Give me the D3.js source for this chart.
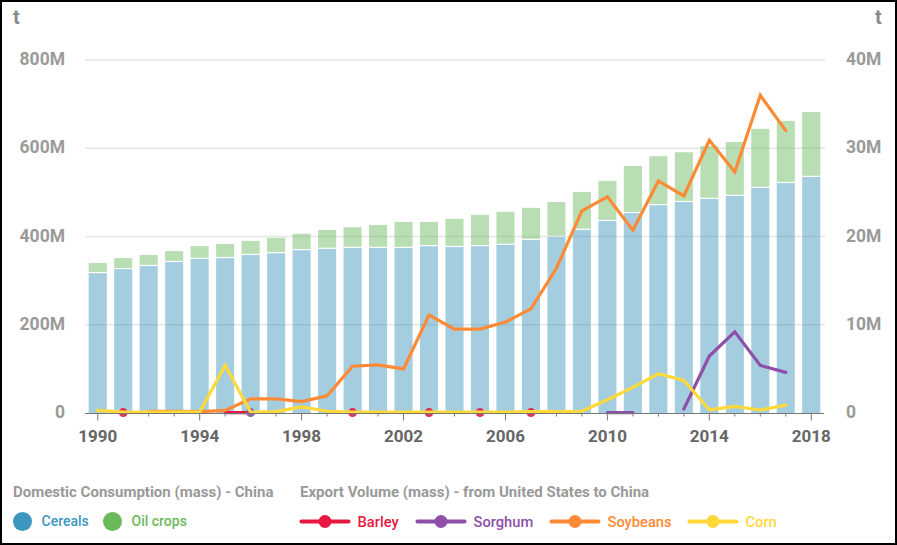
<!DOCTYPE html>
<html><head><meta charset="utf-8">
<script src="https://cdn.jsdelivr.net/npm/d3@7/dist/d3.min.js"></script>
<style>html,body{margin:0;padding:0;background:#fff}svg{display:block}text{font-family:Roboto,sans-serif}</style>
</head><body><svg id="c" width="897" height="545"></svg>
<script>
const years = d3.range(1990, 2019);
const cereals = [317,326,333,342,349,351,358,362,369,372,374,374,374,378,376,378,381,392,399,415,435,453,471,478,485,492,510,521,535];
const oilCrops = [23,25,25,25,29,32,32,35,37,43,47,52,59,55,64,71,75,73,79,86,91,107,111,113,120,122,134,141,147];
const barley = [null,0.05,null,null,null,0.05,0.05,null,null,null,0.05,null,null,0.05,null,0.05,null,0.05,null,null,null,null,null,null,null,null,null,null,null];
const sorghum = [null,null,null,null,null,null,0.05,null,null,null,null,null,null,null,null,null,null,null,null,null,0.05,0.05,null,0.45,6.45,9.2,5.4,4.6,null];
const soybeans = [null,null,0.2,0.2,0.15,0.3,1.6,1.6,1.3,1.95,5.3,5.45,5.0,11.1,9.5,9.5,10.3,11.8,16.4,22.9,24.5,20.7,26.3,24.6,30.9,27.3,36,32,null];
const corn = [0.3,0.1,0.1,0.1,0.1,5.4,0.1,0.15,0.7,0.2,0.1,0.1,0.1,0.1,0.1,0.1,0.1,0.15,0.15,0.2,1.5,2.9,4.45,3.7,0.37,0.74,0.34,0.9,null];
const leftTicks = [0,200,400,600,800];
const rightTicks = [0,10,20,30,40];
const barSeries = [{name:"Cereals",color:"#3d96bd"},{name:"Oil crops",color:"#6bb95d"}];
const lineSeries = [
  {name:"Barley",color:"#e8173f",values:barley},
  {name:"Sorghum",color:"#8e4fa8",values:sorghum},
  {name:"Soybeans",color:"#ff8a36",values:soybeans},
  {name:"Corn",color:"#ffd83a",values:corn}];

const svg = d3.select("#c");
const x = d3.scaleBand().domain(years).range([85,824]).paddingInner(0.29).paddingOuter(0.145);
const cx = d => x(d)+x.bandwidth()/2;
const yL = d3.scaleLinear().domain([0,800]).range([413,60]);
const yR = d3.scaleLinear().domain([0,40]).range([413,60]);
const fmtM = d => d===0 ? "0" : d+"M";

// grid
svg.append("g").selectAll("line").data(leftTicks.slice(1)).join("line")
  .attr("x1",85).attr("x2",825).attr("y1",yL).attr("y2",yL)
  .attr("stroke","#e6e6e6").attr("stroke-width",1.3);

// bars
svg.append("g").selectAll("rect").data(years).join("rect")
  .attr("x",d=>x(d)).attr("width",x.bandwidth())
  .attr("y",(d,i)=>yL(cereals[i])).attr("height",(d,i)=>yL(0)-yL(cereals[i]))
  .attr("fill",barSeries[0].color).attr("fill-opacity",0.47);
svg.append("g").selectAll("rect").data(years).join("rect")
  .attr("x",d=>x(d)).attr("width",x.bandwidth())
  .attr("y",(d,i)=>yL(cereals[i]+oilCrops[i])).attr("height",(d,i)=>yL(cereals[i])-yL(cereals[i]+oilCrops[i])-1.2)
  .attr("fill",barSeries[1].color).attr("fill-opacity",0.47);

// left/right axes
const axL = svg.append("g").attr("transform","translate(65,-1)")
  .call(d3.axisLeft(yL).tickValues(leftTicks).tickFormat(fmtM).tickSize(0).tickPadding(0));
axL.select(".domain").remove();
axL.selectAll("text").attr("fill","#9a9a9a").attr("font-size",17.5).attr("font-weight",700).style("font-family","Roboto");
const axR = svg.append("g").attr("transform","translate(846,-1)")
  .call(d3.axisRight(yR).tickValues(rightTicks).tickFormat(fmtM).tickSize(0).tickPadding(0));
axR.select(".domain").remove();
axR.selectAll("text").attr("fill","#9a9a9a").attr("font-size",17.5).attr("font-weight",700).style("font-family","Roboto");

svg.append("text").attr("x",13).attr("y",24).attr("fill","#8a8a8a").attr("font-size",20).attr("font-weight",700).text("t");
svg.append("text").attr("x",875).attr("y",24).attr("fill","#8a8a8a").attr("font-size",20).attr("font-weight",700).text("t");

// lines
const gL = svg.append("g");
lineSeries.forEach(s=>{
  const pts = years.map((yr,i)=>({yr,v:s.values[i],i}));
  const line = d3.line().defined(d=>d.v!==null).x(d=>cx(d.yr)).y(d=>yR(d.v));
  gL.append("path").datum(pts).attr("d",line).attr("fill","none")
    .attr("stroke",s.color).attr("stroke-width",3.2).attr("stroke-linejoin","miter").attr("stroke-linecap","round");
  const isolated = pts.filter(d=>d.v!==null && (s.values[d.i-1]==null) && (s.values[d.i+1]==null));
  gL.append("g").selectAll("circle").data(isolated).join("circle")
    .attr("cx",d=>cx(d.yr)).attr("cy",d=>yR(d.v)).attr("r",4.5).attr("fill",s.color).attr("fill-opacity",0.9);
});

// x axis
const major = years.filter(y=>(y-1990)%4===0);
const axX = svg.append("g").attr("transform","translate(0,413.5)")
  .call(d3.axisBottom(x).tickValues(years).tickSize(3).tickFormat(d=>major.includes(d)?d:""));
axX.select(".domain").attr("d","M85,0H824").attr("stroke","#777").attr("stroke-width",1.2);
axX.selectAll(".tick line").attr("stroke","#777").attr("y2",d=>major.includes(d)?7:3);
axX.selectAll("text").attr("y",16).attr("dy","0.71em").attr("fill","#666").attr("font-size",17).attr("font-weight",700).style("font-family","Roboto");

// legend
const hdr = (xp,t)=>svg.append("text").attr("x",xp).attr("y",497).attr("fill","#999").attr("font-size",15).attr("font-weight",700).text(t);
hdr(13,"Domestic Consumption (mass) - China");
hdr(300,"Export Volume (mass) - from United States to China");
const barLegX = [22.5,112.5];
barSeries.forEach((s,i)=>{
  svg.append("circle").attr("cx",barLegX[i]).attr("cy",521.5).attr("r",9.5).attr("fill",s.color);
  svg.append("text").attr("x",barLegX[i]+19).attr("y",526).attr("fill",s.color).attr("font-size",14).attr("font-weight",500).text(s.name);
});
const lineLegX = [300,416,550,688];
lineSeries.forEach((s,i)=>{
  const l = lineLegX[i];
  svg.append("line").attr("x1",l+1.5).attr("x2",l+48.5).attr("y1",521.5).attr("y2",521.5)
    .attr("stroke",s.color).attr("stroke-width",4).attr("stroke-linecap","round");
  svg.append("circle").attr("cx",l+25).attr("cy",521.5).attr("r",6.5).attr("fill",s.color);
  svg.append("text").attr("x",l+57.5).attr("y",527).attr("fill",s.color).attr("font-size",14.7).attr("font-weight",500).text(s.name);
});

// frame
svg.append("path").attr("d","M1,1H896V544H1Z").attr("fill","none").attr("stroke","#000").attr("stroke-width",2);
</script></body></html>
